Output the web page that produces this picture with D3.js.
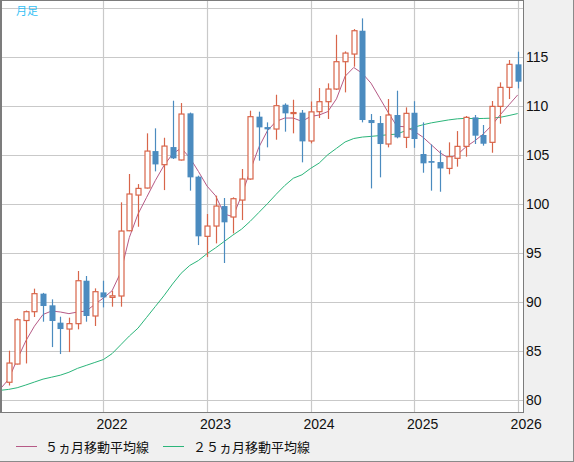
<!DOCTYPE html>
<html><head><meta charset="utf-8">
<script src="https://cdn.jsdelivr.net/npm/d3@7"></script>
<style>html,body{margin:0;padding:0;background:#f0f0f0;overflow:hidden}</style>
</head><body>
<svg id="c" width="574" height="462"></svg>
<script>
// ---- data (monthly candles, Feb 2021 – Jan 2026) ----
const months = [
 "2021-01","2021-02","2021-03","2021-04","2021-05","2021-06","2021-07","2021-08","2021-09","2021-10","2021-11","2021-12",
 "2022-01","2022-02","2022-03","2022-04","2022-05","2022-06","2022-07","2022-08","2022-09","2022-10","2022-11","2022-12",
 "2023-01","2023-02","2023-03","2023-04","2023-05","2023-06","2023-07","2023-08","2023-09","2023-10","2023-11","2023-12",
 "2024-01","2024-02","2024-03","2024-04","2024-05","2024-06","2024-07","2024-08","2024-09","2024-10","2024-11","2024-12",
 "2025-01","2025-02","2025-03","2025-04","2025-05","2025-06","2025-07","2025-08","2025-09","2025-10","2025-11","2025-12",
 "2026-01"];
const candleMonths = months.slice(1);
const opens = [81.78,83.64,88.08,88.98,90.82,89.63,87.86,87.21,87.76,92.14,88.54,
 90.95,90.44,90.58,97.24,100.88,101.6,105.37,103.98,105.78,104.46,109.22,102.76,
 96.67,97.72,99.76,98.64,100.37,102.52,108.88,107.82,107.62,110.1,109.22,109.29,
 106.4,109.39,110.41,111.7,114.49,115.27,117.65,108.54,108.23,106.09,109.05,106.77,
 109.28,105.07,104.35,104.25,103.6,104.63,105.85,108.81,107.01,106.26,109.93,111.87,
 114.22];
const highs = [85.0,88.3,89.1,91.33,90.9,90.24,88.47,88.37,93.13,92.62,91.36,
 92.14,91.12,100.14,103.03,102.0,107.18,107.69,106.73,110.51,110.27,109.3,102.86,
 98.95,100.82,100.58,100.65,103.54,109.49,109.39,108.3,111.12,110.24,110.61,109.56,
 110.43,111.8,112.28,117.24,115.54,117.82,118.91,109.15,108.95,110.68,111.53,109.83,
 110.46,108.3,106.05,105.44,106.26,107.41,108.95,109.05,108.03,110.48,112.38,114.66,
 115.51];
const lows = [81.45,83.6,83.7,88.44,87.96,85.37,84.66,84.86,87.18,87.96,87.52,
 89.42,89.49,89.49,97.2,97.65,101.55,103.3,101.39,104.56,104.4,101.33,95.78,
 94.55,95.95,93.95,96.97,98.33,102.45,104.39,105.75,106.53,107.35,107.18,104.22,
 106.16,108.74,108.64,111.6,111.36,113.98,108.3,101.56,102.69,105.75,106.67,105.68,
 105.7,103.16,101.33,101.22,103.0,103.78,104.8,106.09,105.92,105.2,108.16,110.68,
 111.77];
const closes = [83.74,88.16,88.98,90.82,89.56,88.03,87.21,87.76,92.14,88.54,91.02,
 90.44,90.6,97.21,100.99,101.56,105.37,104.01,105.88,104.63,109.15,102.69,96.67,
 97.72,99.76,98.1,100.51,102.52,108.88,107.79,107.59,110.0,109.22,109.3,106.36,
 109.37,110.41,111.7,114.49,115.37,117.65,108.54,108.23,106.09,109.05,106.77,109.22,
 106.6,104.12,104.18,103.6,104.8,105.85,108.81,106.94,106.12,109.93,111.87,114.22,
 112.45];
// moving averages, Jan 2021 – Jan 2026
const ma5 = [81.05,82.07,84.1,85.99,87.5,88.7,89.05,88.95,88.78,88.95,89.05,89.73,
 90.38,91.12,92.99,96.56,98.94,100.65,102.35,103.88,105.07,105.68,104.7,103.3,
 101.8,100.8,98.95,98.67,100.82,103.37,105.75,107.45,108.4,108.74,108.74,108.4,
 108.9,109.05,109.4,110.7,113.0,113.9,113.3,112.3,110.8,109.3,107.9,107.85,
 107.4,106.8,106.0,105.2,104.65,105.0,105.8,106.4,107.1,108.0,109.1,110.1,
 111.1];
const ma25 = [80.95,81.05,81.22,81.5,81.8,82.1,82.3,82.5,82.8,83.2,83.5,83.8,
 84.1,84.7,85.6,86.5,87.3,88.4,89.5,90.6,91.8,92.9,93.7,94.2,
 94.9,95.5,96.15,96.8,97.4,98.2,99.1,100.0,100.95,101.85,102.6,102.95,
 103.6,104.15,105.0,105.65,106.3,106.65,106.8,106.87,106.95,107.04,107.1,107.45,
 107.8,108.05,108.25,108.4,108.55,108.66,108.71,108.68,108.7,108.73,108.82,109.0,
 109.2];
const priceGrid = [80,85,90,95,100,105,110,115,120];
const priceLabels = [80,85,90,95,100,105,110,115];
const yearTicks = ["2022","2023","2024","2025","2026"];
const chartTitle = "月足";
const legendNames = ["５ヵ月移動平均線","２５ヵ月移動平均線"];

// ---- layout ----
const svg = d3.select("#c");
const P = {l:1, t:1, r:523, b:412};
const RED = "#d8654a", BLUE = "#4b8bbf", PINK = "#b65a86", GREEN = "#2bb57a", GRID = "#c9c9c9";

const monthIdx = s => { const [y,m] = s.split("-").map(Number); return (y-2021)*12 + (m-1); };
const x = d3.scaleLinear().domain([0,60]).range([-0.1,517.7]);
const y = d3.scaleLinear().domain([80,115]).range([399.7,56.7]);

svg.append("rect").attr("x",0).attr("y",0).attr("width",574).attr("height",462).attr("fill","#f0f0f0");
svg.append("rect").attr("x",P.l).attr("y",P.t).attr("width",P.r-P.l).attr("height",P.b-P.t).attr("fill","#fff");

svg.append("defs").append("clipPath").attr("id","clip")
  .append("rect").attr("x",P.l+1).attr("y",P.t).attr("width",P.r-P.l-1).attr("height",P.b-P.t);

const plot = svg.append("g").attr("clip-path","url(#clip)");

// grid
plot.selectAll("line.hg").data(priceGrid).join("line").attr("class","hg")
  .attr("x1",P.l).attr("x2",P.r).attr("y1",d=>Math.round(y(d))+0.5).attr("y2",d=>Math.round(y(d))+0.5)
  .attr("stroke",GRID).attr("stroke-width",1.2);
plot.selectAll("line.vg").data(yearTicks).join("line").attr("class","vg")
  .attr("y1",P.t).attr("y2",P.b)
  .attr("x1",d=>Math.round(x(monthIdx(d+"-01")))+0.5).attr("x2",d=>Math.round(x(monthIdx(d+"-01")))+0.5)
  .attr("stroke",GRID).attr("stroke-width",1.2);

// moving averages
const maLine = arr => d3.line().x((d,i)=>x(monthIdx(months[i]))).y(d=>y(d))(arr);
plot.append("path").attr("d",maLine(ma25)).attr("fill","none").attr("stroke",GREEN).attr("stroke-width",1);
plot.append("path").attr("d",maLine(ma5)).attr("fill","none").attr("stroke",PINK).attr("stroke-width",1);

// candles
const candles = candleMonths.map((m,i)=>({m, o:opens[i], h:highs[i], l:lows[i], c:closes[i]}));
const cg = plot.selectAll("g.cd").data(candles).join("g").attr("class","cd");
cg.each(function(d){
  const g = d3.select(this);
  const cx = Math.round(x(monthIdx(d.m)));
  const up = d.c >= d.o;
  const col = up ? RED : BLUE;
  const top = y(Math.max(d.o,d.c)), bot = y(Math.min(d.o,d.c));
  g.append("line").attr("x1",cx+0.5).attr("x2",cx+0.5).attr("y1",y(d.h)).attr("y2",y(d.l))
    .attr("stroke",col).attr("stroke-width",1.2);
  if (up) {
    g.append("rect").attr("x",cx-2).attr("y",top).attr("width",5).attr("height",Math.max(1,bot-top))
      .attr("fill","#fff").attr("stroke",col).attr("stroke-width",1.2);
  } else {
    g.append("rect").attr("x",cx-2.5).attr("y",top).attr("width",6).attr("height",Math.max(1.5,bot-top))
      .attr("fill",col);
  }
});

// frame
svg.append("line").attr("x1",1).attr("x2",1).attr("y1",0).attr("y2",P.b+1).attr("stroke","#7c7c7c").attr("stroke-width",2);
svg.append("line").attr("x1",0).attr("x2",P.r+1).attr("y1",0.5).attr("y2",0.5).attr("stroke","#7c7c7c").attr("stroke-width",1);
svg.append("line").attr("x1",P.r+0.5).attr("x2",P.r+0.5).attr("y1",0).attr("y2",P.b+1).attr("stroke","#7c7c7c").attr("stroke-width",1);
svg.append("line").attr("x1",0).attr("x2",P.r+1).attr("y1",P.b+0.5).attr("y2",P.b+0.5).attr("stroke","#7c7c7c").attr("stroke-width",1);
svg.append("line").attr("x1",573.5).attr("x2",573.5).attr("y1",0).attr("y2",462).attr("stroke","#8a8a8a");
svg.append("line").attr("x1",0).attr("x2",574).attr("y1",461.5).attr("y2",461.5).attr("stroke","#8a8a8a");

// right price axis
const yAxis = d3.axisRight(y).tickValues(priceLabels).tickSize(0).tickPadding(0).tickFormat(d3.format("d"));
const ya = svg.append("g").attr("transform",`translate(${P.r+3},0)`).call(yAxis);
ya.select(".domain").remove();
ya.selectAll("text").attr("font-family","Liberation Sans, Arial, sans-serif").attr("font-size",14).attr("fill","#111");

// bottom year axis
const xAxis = d3.axisBottom(x).tickValues(yearTicks.map(t=>monthIdx(t+"-01"))).tickSize(0).tickPadding(0)
  .tickFormat(v=>yearTicks[yearTicks.map(t=>monthIdx(t+"-01")).indexOf(v)]);
const xa = svg.append("g").attr("transform",`translate(0,${P.b+7})`).call(xAxis);
xa.select(".domain").remove();
xa.selectAll("text").attr("font-family","Liberation Sans, Arial, sans-serif").attr("font-size",14)
  .attr("fill","#111").attr("dx",8);

// title
svg.append("text").attr("x",16).attr("y",15).text(chartTitle)
  .attr("font-family","Noto Sans CJK JP, sans-serif").attr("font-size",11).attr("fill","#33bff5");

// legend
const legend = [{name:legendNames[0], color:PINK, x0:16, x1:37, tx:45},
                {name:legendNames[1], color:GREEN, x0:163, x1:184, tx:193}];
const lg = svg.selectAll("g.lg").data(legend).join("g").attr("class","lg");
lg.append("line").attr("x1",d=>d.x0).attr("x2",d=>d.x1).attr("y1",446.5).attr("y2",446.5)
  .attr("stroke",d=>d.color).attr("stroke-width",1);
lg.append("text").attr("x",d=>d.tx).attr("y",452).text(d=>d.name)
  .attr("font-family","Noto Sans CJK JP, sans-serif").attr("font-size",13).attr("fill","#111");
</script>
</body></html>
